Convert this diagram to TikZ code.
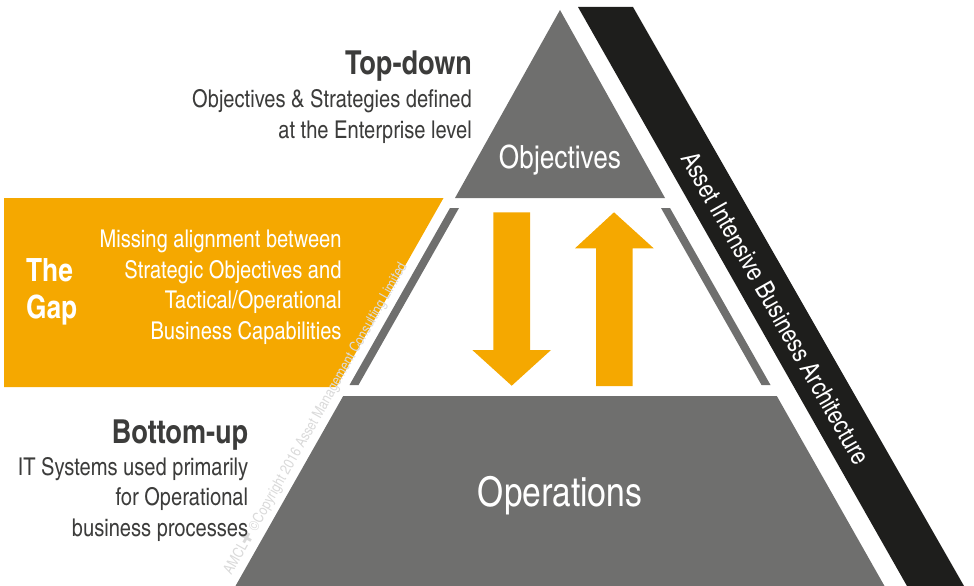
\documentclass[tikz,border=0pt]{standalone}
\usepackage{fontspec}
\setmainfont{TeX Gyre Heros Cn}
\newfontfamily\symfont{DejaVu Sans}
\usepackage{tikz}
\usetikzlibrary{positioning}
\definecolor{gapyellow}{HTML}{F5A800}
\definecolor{pyrgray}{HTML}{6F6F6E}
\definecolor{bandblack}{HTML}{1E1E1C}
\definecolor{txtgray}{HTML}{3C3C3B}
\definecolor{wmgray}{HTML}{DADADA}
\tikzset{
	head node/.style={font=\bfseries\fontsize{33}{40}\selectfont,text=txtgray,inner sep=0pt},
	desc node/.style={font=\fontsize{24.5}{30.5}\selectfont,text=txtgray,align=right,inner sep=0pt},
	level node/.style={font=\fontsize{#1}{#1}\selectfont,text=white,inner sep=0pt}
}

\begin{document}
\begin{tikzpicture}[x=1pt,y=-1pt]
\useasboundingbox (0,0) rectangle (974,586);
\fill[bandblack] (578,7) -- (633,7) -- (964,586) -- (907,586) -- cycle;
\fill[gapyellow] (4,198) -- (443.5,198) -- (336.3,387) -- (4,387) -- cycle;
\fill[pyrgray] (560,10) -- (665,198) -- (455,198) -- cycle;
\fill[pyrgray] (450,208) -- (459,208) -- (358.5,385) -- (349.5,385) -- cycle;
\fill[pyrgray] (661,208) -- (670,208) -- (770.5,385) -- (761.5,385) -- cycle;
\fill[pyrgray] (343.2,396) -- (776.8,396) -- (884.5,586) -- (235.5,586) -- cycle;
\fill[gapyellow] (493.3,212.3) -- (530,212.3) -- (530,350) -- (551,350)
  -- (511.7,385.7) -- (472.3,350) -- (493.3,350) -- cycle;
\fill[gapyellow] (596,386) -- (632.7,386) -- (632.7,248.3) -- (653.7,248.3)
  -- (614,212.3) -- (575,248.3) -- (596,248.3) -- cycle;

\node[font=\fontsize{15}{15}\selectfont,text=wmgray,rotate=60.4,inner sep=0pt] (wm) at (316,419)
  {AMCL{\symfont ✚} \textcopyright Copyright 2016 Asset Management Consulting Limited};

\node[level node=32,anchor=base] (obj) at (560,168) {Objectives};
\node[level node=41,anchor=base] (ops) at (560,506.7) {Operations};

\node[head node,anchor=base east] (top) at (472,74.3) {Top-down};
\node[desc node,anchor=base east] (topdesc) at (472,138.3)
  {Objectives \& Strategies defined\\at the Enterprise level};

\node[head node,anchor=base east] (bottom) at (248.3,443.3) {Bottom-up};
\node[desc node,anchor=base east] (bottomdesc) at (248.3,536)
  {IT Systems used primarily\\for Operational\\business processes};

\node[head node,text=white,font=\bfseries\fontsize{32}{36.6}\selectfont,
  align=left,anchor=base west] (gap) at (26,318.3) {The\\Gap};
\node[desc node,text=white,anchor=base east] (gapdesc) at (341.7,339)
  {Missing alignment between\\Strategic Objectives and\\Tactical/Operational\\Business Capabilities};

\node[level node=26,rotate=-60.4] (band) at (776,308)
  {Asset Intensive Business Architecture};
\end{tikzpicture}
\end{document}
